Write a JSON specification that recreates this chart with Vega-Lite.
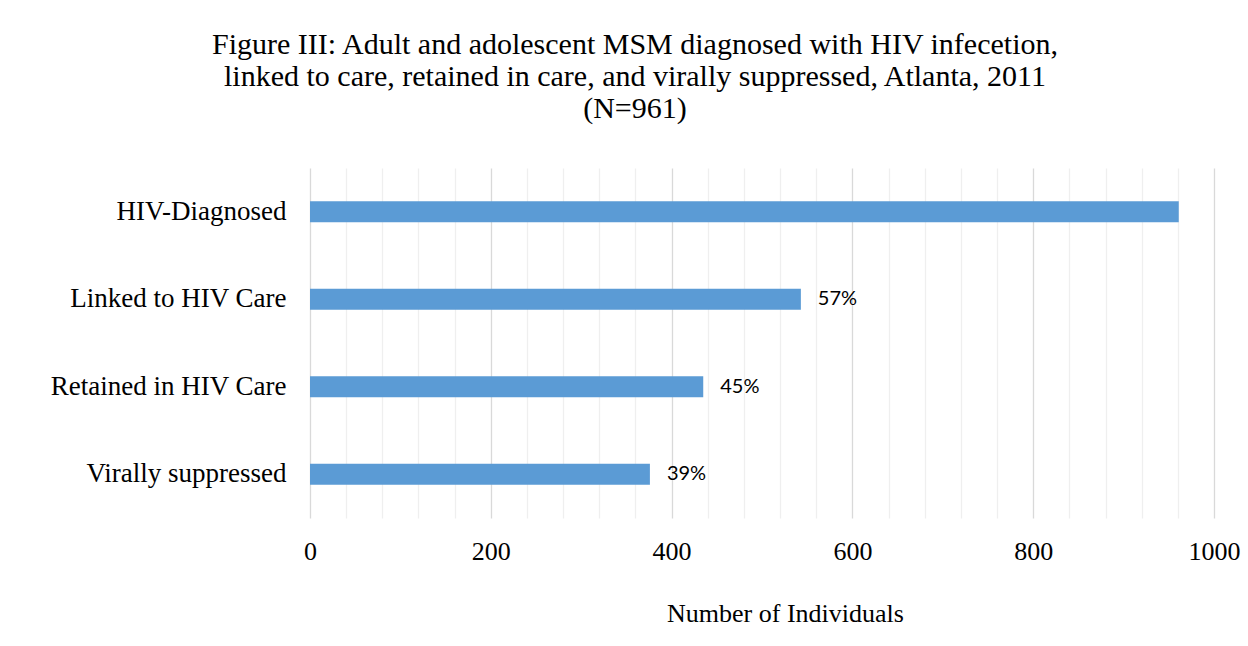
{
  "$schema": "https://vega.github.io/schema/vega-lite/v6.json",
  "autosize": "none",
  "width": 904,
  "height": 350,
  "padding": {"left": 310, "top": 168, "right": 34, "bottom": 128},
  "background": "white",
  "title": {
    "text": ["Figure III: Adult and adolescent MSM diagnosed with HIV infecetion,", "linked to care, retained in care, and virally suppressed, Atlanta, 2011", "(N=961)"],
    "font": "Liberation Serif",
    "fontSize": 30,
    "fontWeight": "normal",
    "color": "#000000",
    "lineHeight": 32,
    "anchor": "middle",
    "dx": -127,
    "offset": 44
  },
  "data": {
    "values": [
      {"stage": "HIV-Diagnosed", "count": 961, "pct": ""},
      {"stage": "Linked to HIV Care", "count": 543, "pct": "57%"},
      {"stage": "Retained in HIV Care", "count": 435, "pct": "45%"},
      {"stage": "Virally suppressed", "count": 376, "pct": "39%"}
    ]
  },
  "encoding": {
    "y": {
      "field": "stage",
      "type": "nominal",
      "sort": null,
      "scale": {"paddingInner": 0, "paddingOuter": 0},
      "axis": {
        "title": null,
        "domain": false,
        "ticks": false,
        "labelFont": "Liberation Serif",
        "labelFontSize": 27,
        "labelColor": "#000000",
        "labelPadding": 24,
        "labelLimit": 400
      }
    },
    "x": {
      "field": "count",
      "type": "quantitative",
      "scale": {"domain": [0, 1000], "nice": false},
      "axis": {
        "title": "Number of Individuals",
        "titleFont": "Liberation Serif",
        "titleFontSize": 26,
        "titleFontWeight": "normal",
        "titleColor": "#000000",
        "titlePadding": 36,
        "titleX": 475,
        "values": [0, 40, 80, 120, 160, 200, 240, 280, 320, 360, 400, 440, 480, 520, 560, 600, 640, 680, 720, 760, 800, 840, 880, 920, 960, 1000],
        "labelExpr": "datum.value % 200 === 0 ? format(datum.value, 'd') : ''",
        "labelOverlap": false,
        "labelFlush": false,
        "labelFont": "Liberation Serif",
        "labelFontSize": 26,
        "labelColor": "#000000",
        "labelPadding": 20,
        "domain": false,
        "ticks": false,
        "grid": true,
        "gridColor": {"condition": {"test": "datum.value % 200 === 0", "value": "#d9d9d9"}, "value": "#efefef"},
        "gridWidth": 1.3
      }
    }
  },
  "layer": [
    {
      "mark": {"type": "bar", "color": "#5b9bd5", "size": 21}
    },
    {
      "mark": {"type": "text", "align": "left", "baseline": "middle", "dx": 17, "font": "Lato", "fontSize": 20, "color": "#000000"},
      "encoding": {"text": {"field": "pct"}}
    }
  ],
  "config": {"view": {"stroke": null}}
}
